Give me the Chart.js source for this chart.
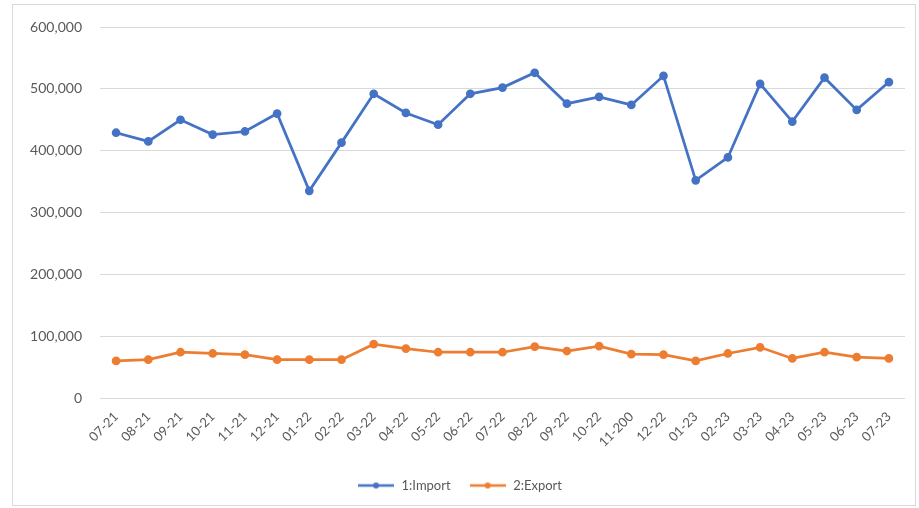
<!DOCTYPE html>
<html>
<head>
<meta charset="utf-8">
<script src="https://cdn.jsdelivr.net/npm/chart.js@4/dist/chart.umd.min.js"></script>
<style>
  html, body { margin: 0; padding: 0; background: #fff; }
  #wrap { position: absolute; left: 0; top: 0; width: 919px; height: 508px; }
  #frame { position: absolute; left: 12px; top: 4px; width: 904px; height: 502px; border: 1px solid #d9d9d9; box-sizing: border-box; }
</style>
</head>
<body>
<div id="frame"></div>
<div id="wrap"><canvas id="chart"></canvas></div>
<script>
// months shown on the x axis
var months = ['07-21', '08-21', '09-21', '10-21', '11-21', '12-21', '01-22', '02-22', '03-22',
  '04-22', '05-22', '06-22', '07-22', '08-22', '09-22', '10-22', '11-200', '12-22',
  '01-23', '02-23', '03-23', '04-23', '05-23', '06-23', '07-23'];

// series values
var importValues = [429000, 415000, 450000, 426000, 431000, 460000, 335000, 413000, 492000,
  461000, 442000, 492000, 502000, 526000, 476000, 487000, 474000, 521000,
  352000, 389000, 508000, 447000, 518000, 466000, 511000];
var exportValues = [60000, 62000, 74000, 72000, 70000, 62000, 62000, 62000, 87000,
  80000, 74000, 74000, 74000, 83000, 76000, 84000, 71000, 70000,
  60000, 72000, 82000, 64000, 74000, 66000, 64000];

var seriesNames = ['1:Import', '2:Export'];

var blue = '#4472C4';
var orange = '#ED7D31';
var textColor = '#595959';

// little line+dot icon for the legend, like the spreadsheet one
function legendIcon(color) {
  var c = document.createElement('canvas');
  c.width = 36; c.height = 10;
  var ctx = c.getContext('2d');
  ctx.strokeStyle = color;
  ctx.lineWidth = 2.5;
  ctx.beginPath();
  ctx.moveTo(0, 5);
  ctx.lineTo(36, 5);
  ctx.stroke();
  ctx.fillStyle = color;
  ctx.beginPath();
  ctx.arc(18, 5, 3, 0, Math.PI * 2);
  ctx.fill();
  return c;
}

Chart.defaults.font.family = 'Lato, "Liberation Sans", sans-serif';
Chart.defaults.color = textColor;

var chart = new Chart(document.getElementById('chart'), {
  type: 'line',
  data: {
    labels: months,
    datasets: [
      {
        label: seriesNames[0],
        data: importValues,
        borderColor: blue,
        backgroundColor: blue,
        borderWidth: 2.75,
        pointRadius: 3,
        pointHoverRadius: 3,
        tension: 0
      },
      {
        label: seriesNames[1],
        data: exportValues,
        borderColor: orange,
        backgroundColor: orange,
        borderWidth: 2.75,
        pointRadius: 3,
        pointHoverRadius: 3,
        tension: 0
      }
    ]
  },
  options: {
    responsive: true,
    maintainAspectRatio: false,
    animation: false,
    layout: { padding: { left: 14, right: 14, top: 27, bottom: 6 } },
    scales: {
      x: {
        offset: true,
        grid: { display: false },
        border: { display: false },
        ticks: {
          minRotation: 45,
          maxRotation: 45,
          autoSkip: false,
          color: textColor,
          font: { size: 13 }
        },
        afterFit: function (scale) { scale.height = 63; }
      },
      y: {
        min: 0,
        max: 600000,
        grid: { color: '#d9d9d9', drawTicks: false, lineWidth: 1 },
        border: { display: false },
        ticks: {
          stepSize: 100000,
          padding: 18,
          color: textColor,
          font: { size: 14 },
          callback: function (v) { return v.toLocaleString('en-US'); }
        },
        afterFit: function (scale) { scale.width = 86; }
      }
    },
    plugins: {
      tooltip: { enabled: false },
      legend: {
        position: 'bottom',
        labels: {
          usePointStyle: true,
          pointStyleWidth: 38,
          padding: 18,
          color: textColor,
          font: { size: 13 },
          generateLabels: function (ch) {
            return ch.data.datasets.map(function (ds, i) {
              return {
                text: ds.label,
                pointStyle: legendIcon(ds.borderColor),
                fillStyle: ds.borderColor,
                strokeStyle: ds.borderColor,
                lineWidth: 0,
                fontColor: textColor,
                datasetIndex: i,
                hidden: false
              };
            });
          }
        }
      }
    }
  }
});
</script>
</body>
</html>
